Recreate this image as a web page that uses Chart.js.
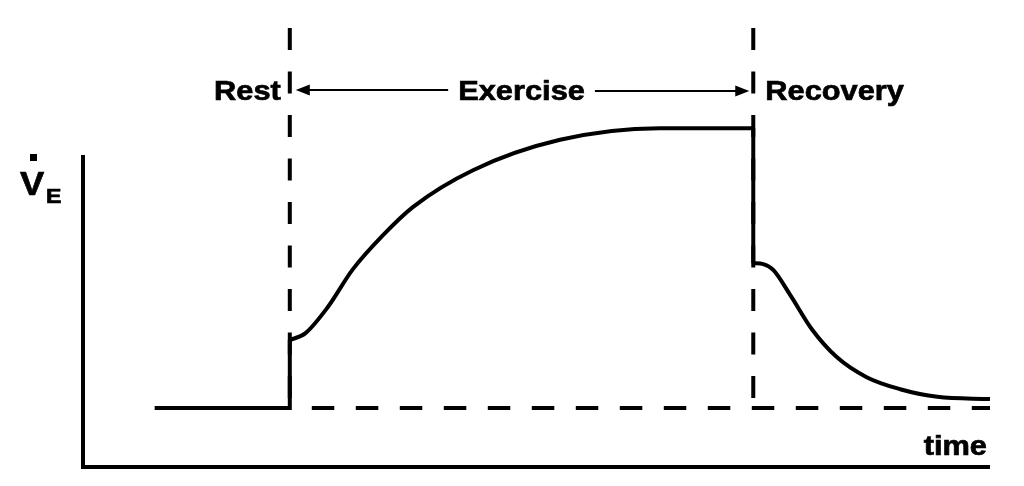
<!DOCTYPE html>
<html>
<head>
<meta charset="utf-8">
<title>Ventilation during rest, exercise and recovery</title>
<script src="https://cdn.jsdelivr.net/npm/chart.js@4.4.1/dist/chart.umd.min.js"></script>
<style>
  html, body { margin: 0; padding: 0; background: #fff; }
  canvas { display: block; }
</style>
</head>
<body>
<canvas id="chart" width="1024" height="486"></canvas>
<script>
// time axis runs 0..100, VE axis 0..100 (arbitrary units)
const phaseNames = ['Rest', 'Exercise', 'Recovery'];
const phaseBounds = [22.8, 73.9];     // exercise onset, exercise end
const restLevel = 13.2;               // resting VE
const restTime = [7.9, 22.8];

const exerciseTime = [22.8, 24.5, 27.0, 29.7, 33.0, 36.4, 43.0, 52.6, 63.6, 73.9];
const exerciseVE   = [28.4, 29.9, 35.8, 44.1, 51.7, 58.2, 66.4, 73.2, 75.8, 75.8];

const recoveryTime = [73.9, 75.0, 76.1, 78.0, 80.4, 83.1, 86.4, 90.1, 94.2, 100];
const recoveryVE   = [45.6, 45.4, 44.1, 38.4, 30.7, 24.6, 20.1, 17.4, 15.7, 15.2];

const axisTop = 69.8;       // where the drawn VE axis stops
const markerTop = 98.2;     // top of the dashed phase markers

const toPoints = (xs, ys) => xs.map((x, i) => ({ x: x, y: ys[i] }));

const black = '#000';
const lineBase = {
    borderColor: black,
    borderWidth: 4,
    pointRadius: 0,
    fill: false,
    clip: false,
    tension: 0,
    borderJoinStyle: 'miter'
};

const datasets = [
    // axes
    Object.assign({}, lineBase, { data: [{ x: 0, y: axisTop }, { x: 0, y: 0 }, { x: 100, y: 0 }] }),
    // dashed phase markers
    Object.assign({}, lineBase, { data: [{ x: phaseBounds[0], y: markerTop }, { x: phaseBounds[0], y: restLevel }], borderDash: [22, 21.5] }),
    Object.assign({}, lineBase, { data: [{ x: phaseBounds[1], y: markerTop }, { x: phaseBounds[1], y: restLevel }], borderDash: [22, 21.5] }),
    // dashed resting baseline
    Object.assign({}, lineBase, { data: [{ x: phaseBounds[0], y: restLevel }, { x: 100, y: restLevel }], borderDash: [22.5, 21.5], borderDashOffset: 22 }),
    // rest and onset jump
    Object.assign({}, lineBase, { data: [{ x: restTime[0], y: restLevel }, { x: restTime[1], y: restLevel }, { x: exerciseTime[0], y: exerciseVE[0] }] }),
    // exercise rise
    Object.assign({}, lineBase, { data: toPoints(exerciseTime, exerciseVE), cubicInterpolationMode: 'monotone' }),
    // drop at end of exercise
    Object.assign({}, lineBase, { data: [{ x: exerciseTime[exerciseTime.length - 1], y: exerciseVE[exerciseVE.length - 1] }, { x: recoveryTime[0], y: recoveryVE[0] }] }),
    // recovery
    Object.assign({}, lineBase, { data: toPoints(recoveryTime, recoveryVE), cubicInterpolationMode: 'monotone' })
];

function stretchedText(ctx, str, x, y, size, align) {
    ctx.save();
    ctx.font = 'bold ' + size + 'px "Liberation Sans", Arial, sans-serif';
    ctx.textBaseline = 'alphabetic';
    const w = ctx.measureText(str).width * 1.1;
    let left = x;
    if (align === 'right') left = x - w;
    if (align === 'center') left = x - w / 2;
    ctx.translate(left, y);
    ctx.scale(1.1, 1);
    ctx.fillStyle = black;
    ctx.strokeStyle = black;
    ctx.lineWidth = 0.7;
    ctx.fillText(str, 0, 0);
    ctx.strokeText(str, 0, 0);
    ctx.restore();
    return w;
}

function arrow(ctx, from, to, y) {
    const dir = Math.sign(to - from);
    ctx.save();
    ctx.strokeStyle = black;
    ctx.fillStyle = black;
    ctx.lineWidth = 2;
    ctx.beginPath();
    ctx.moveTo(from, y);
    ctx.lineTo(to - dir * 12, y);
    ctx.stroke();
    ctx.beginPath();
    ctx.moveTo(to, y);
    ctx.lineTo(to - dir * 14, y - 5.5);
    ctx.lineTo(to - dir * 14, y + 5.5);
    ctx.closePath();
    ctx.fill();
    ctx.restore();
}

const labelsPlugin = {
    id: 'labels',
    afterDraw(chart) {
        const ctx = chart.ctx;
        const xs = chart.scales.x;
        const b0 = xs.getPixelForValue(phaseBounds[0]);
        const b1 = xs.getPixelForValue(phaseBounds[1]);
        const yLab = 100;

        stretchedText(ctx, phaseNames[0], b0 - 9, yLab, 28, 'right');
        const mid = (b0 + b1) / 2;
        const wEx = stretchedText(ctx, phaseNames[1], mid, yLab, 28, 'center');
        stretchedText(ctx, phaseNames[2], b1 + 12, yLab, 28, 'left');

        arrow(ctx, mid - wEx / 2 - 10, b0 + 6, 90);
        arrow(ctx, mid + wEx / 2 + 10, b1 - 4, 91);

        // axis titles
        stretchedText(ctx, 'time', xs.right - 3, 455, 28, 'right');
        stretchedText(ctx, 'V', 20, 195, 33, 'left');
        stretchedText(ctx, 'E', 46, 203, 21, 'left');
        ctx.fillStyle = black;
        ctx.fillRect(30, 154, 7, 7);
    }
};

new Chart(document.getElementById('chart'), {
    type: 'line',
    data: { datasets: datasets },
    options: {
        responsive: false,
        devicePixelRatio: 1,
        animation: false,
        layout: { padding: { left: 83, right: 34, top: 20, bottom: 19 } },
        plugins: { legend: { display: false }, tooltip: { enabled: false } },
        scales: {
            x: { type: 'linear', min: 0, max: 100, display: false },
            y: { type: 'linear', min: 0, max: 100, display: false }
        }
    },
    plugins: [labelsPlugin]
});
</script>
</body>
</html>
